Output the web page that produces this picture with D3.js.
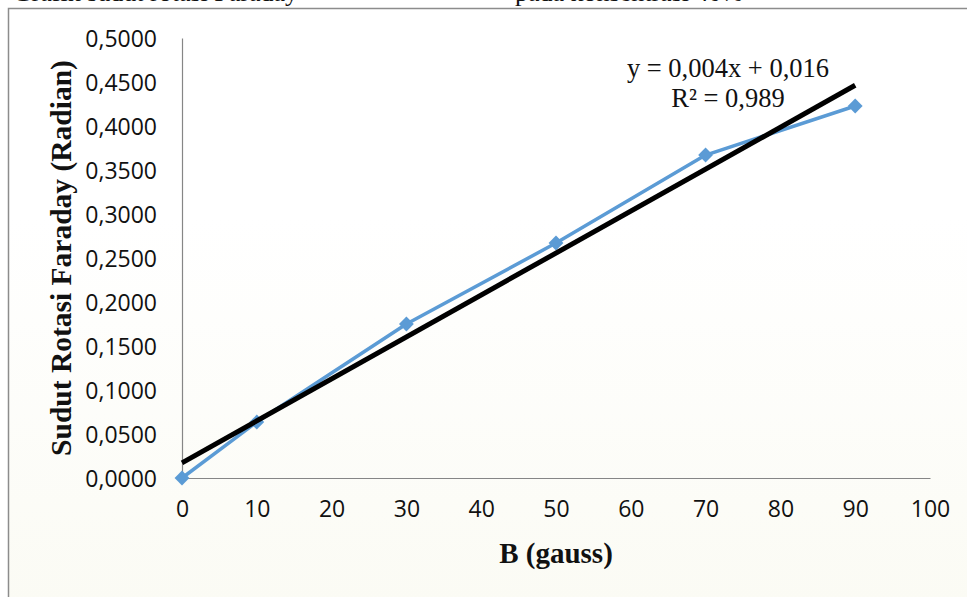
<!DOCTYPE html>
<html>
<head>
<meta charset="utf-8">
<script src="https://cdn.jsdelivr.net/npm/d3@7"></script>
<style>
  html, body { margin: 0; padding: 0; background: #ffffff; }
  svg { display: block; }
</style>
</head>
<body>
<svg id="chart" width="967" height="597"></svg>
<script>
// ---- data ----
const fieldB = [0, 10, 30, 50, 70, 90];                       // B (gauss)
const faradayAngle = [0.0000, 0.0636, 0.1750, 0.2670, 0.3670, 0.4227]; // radian
const xTicks = [0, 10, 20, 30, 40, 50, 60, 70, 80, 90, 100];
const yTicks = [0, 0.05, 0.10, 0.15, 0.20, 0.25, 0.30, 0.35, 0.40, 0.45, 0.50];
const equationLines = ["y = 0,004x + 0,016", "R² = 0,989"];
const xTitle = "B (gauss)";
const yTitle = "Sudut Rotasi Faraday (Radian)";
const captionParts = ["Grafik sudut rotasi Faraday", "pada konsentrasi 40%"];

const svg = d3.select("#chart");
const W = 967, H = 597;

// background / frame
svg.append("rect").attr("x", 0).attr("y", 0).attr("width", W).attr("height", H).attr("fill", "#ffffff");
const defs = svg.append("defs");
const bgGrad = defs.append("linearGradient")
  .attr("id", "bgg").attr("x1", "0").attr("y1", "0").attr("x2", "0").attr("y2", "1");
bgGrad.append("stop").attr("offset", "0").attr("stop-color", "#ffffff");
bgGrad.append("stop").attr("offset", "0.35").attr("stop-color", "#ffffff");
bgGrad.append("stop").attr("offset", "1").attr("stop-color", "#fbfbf4");
svg.append("rect").attr("x", 8).attr("y", 8).attr("width", W).attr("height", H)
  .attr("fill", "url(#bgg)");

// cut-off caption at top (only the bottom of the glyphs is visible)
const cap = svg.append("g").attr("font-family", "Liberation Serif, 'Times New Roman', serif")
  .attr("font-size", 26).attr("fill", "#111");
cap.append("text").attr("x", 298).attr("y", 1).attr("text-anchor", "end").text(captionParts[0]);
cap.append("text").attr("x", 515).attr("y", 1).text(captionParts[1]);

// frame border
svg.append("path").attr("d", `M 8.5 ${H} L 8.5 8.5 L ${W} 8.5`)
  .attr("fill", "none").attr("stroke", "#8c8c8c").attr("stroke-width", 1.5);

// ---- scales ----
const x = d3.scaleLinear().domain([0, 100]).range([182, 930]);
const y = d3.scaleLinear().domain([0, 0.5]).range([478, 38]);

// axes
const fmtY = v => d3.format(".4f")(v).replace(".", ",");
const yAxis = d3.axisLeft(y).tickValues(yTicks).tickSize(0).tickPadding(25).tickFormat(fmtY);
const xAxis = d3.axisBottom(x).tickValues(xTicks).tickSize(0).tickPadding(22).tickFormat(d3.format("d"));

const gy = svg.append("g").attr("transform", `translate(${x(0)},0)`).call(yAxis);
const gx = svg.append("g").attr("transform", `translate(0,${y(0)})`).call(xAxis);
[gx, gy].forEach(g => {
  g.select(".domain").attr("stroke", "#868686").attr("stroke-width", 1.2);
  g.selectAll("text")
    .attr("font-family", "'Open Sans', sans-serif")
    .attr("font-size", 23)
    .attr("fill", "#111");
});
gy.selectAll("text").attr("dy", "0.36em");
gx.selectAll("text").attr("dy", "0.75em");

// axis titles
svg.append("text")
  .attr("x", (x(0) + x(100)) / 2).attr("y", 563)
  .attr("text-anchor", "middle")
  .attr("font-family", "Liberation Serif, 'Times New Roman', serif")
  .attr("font-weight", "bold").attr("font-size", 29).attr("fill", "#111")
  .text(xTitle);
svg.append("text")
  .attr("transform", `translate(71,${(y(0) + y(0.5)) / 2}) rotate(-90)`)
  .attr("text-anchor", "middle")
  .attr("font-family", "Liberation Serif, 'Times New Roman', serif")
  .attr("font-weight", "bold").attr("font-size", 29.5).attr("fill", "#111")
  .text(yTitle);

// ---- series ----
const pts = fieldB.map((b, i) => ({ b, a: faradayAngle[i] }));
const line = d3.line().x(d => x(d.b)).y(d => y(d.a));
svg.append("path").datum(pts).attr("d", line)
  .attr("fill", "none").attr("stroke", "#5b9bd5").attr("stroke-width", 3.5)
  .attr("stroke-linejoin", "round");

const sym = d3.symbol().type(d3.symbolSquare).size(110);
svg.append("g").selectAll("path").data(pts).join("path")
  .attr("d", sym)
  .attr("transform", d => `translate(${x(d.b)},${y(d.a)}) rotate(45)`)
  .attr("fill", "#5b9bd5");

// linear trendline (least squares fit of the data)
const mx = d3.mean(fieldB), my = d3.mean(faradayAngle);
const sxy = d3.sum(pts, d => (d.b - mx) * (d.a - my));
const sxx = d3.sum(pts, d => (d.b - mx) ** 2);
const slope = sxy / sxx, icept = my - slope * mx;
const ext = d3.extent(fieldB);
svg.append("path")
  .datum(ext.map(b => ({ b, a: icept + slope * b })))
  .attr("d", line)
  .attr("fill", "none").attr("stroke", "#000").attr("stroke-width", 5);

// equation label
const eq = svg.append("text")
  .attr("font-family", "Liberation Serif, 'Times New Roman', serif")
  .attr("font-size", 26.5).attr("fill", "#111").attr("text-anchor", "middle");
equationLines.forEach((t, i) => {
  eq.append("tspan").attr("x", 728).attr("y", 77 + i * 30).text(t);
});
</script>
</body>
</html>
